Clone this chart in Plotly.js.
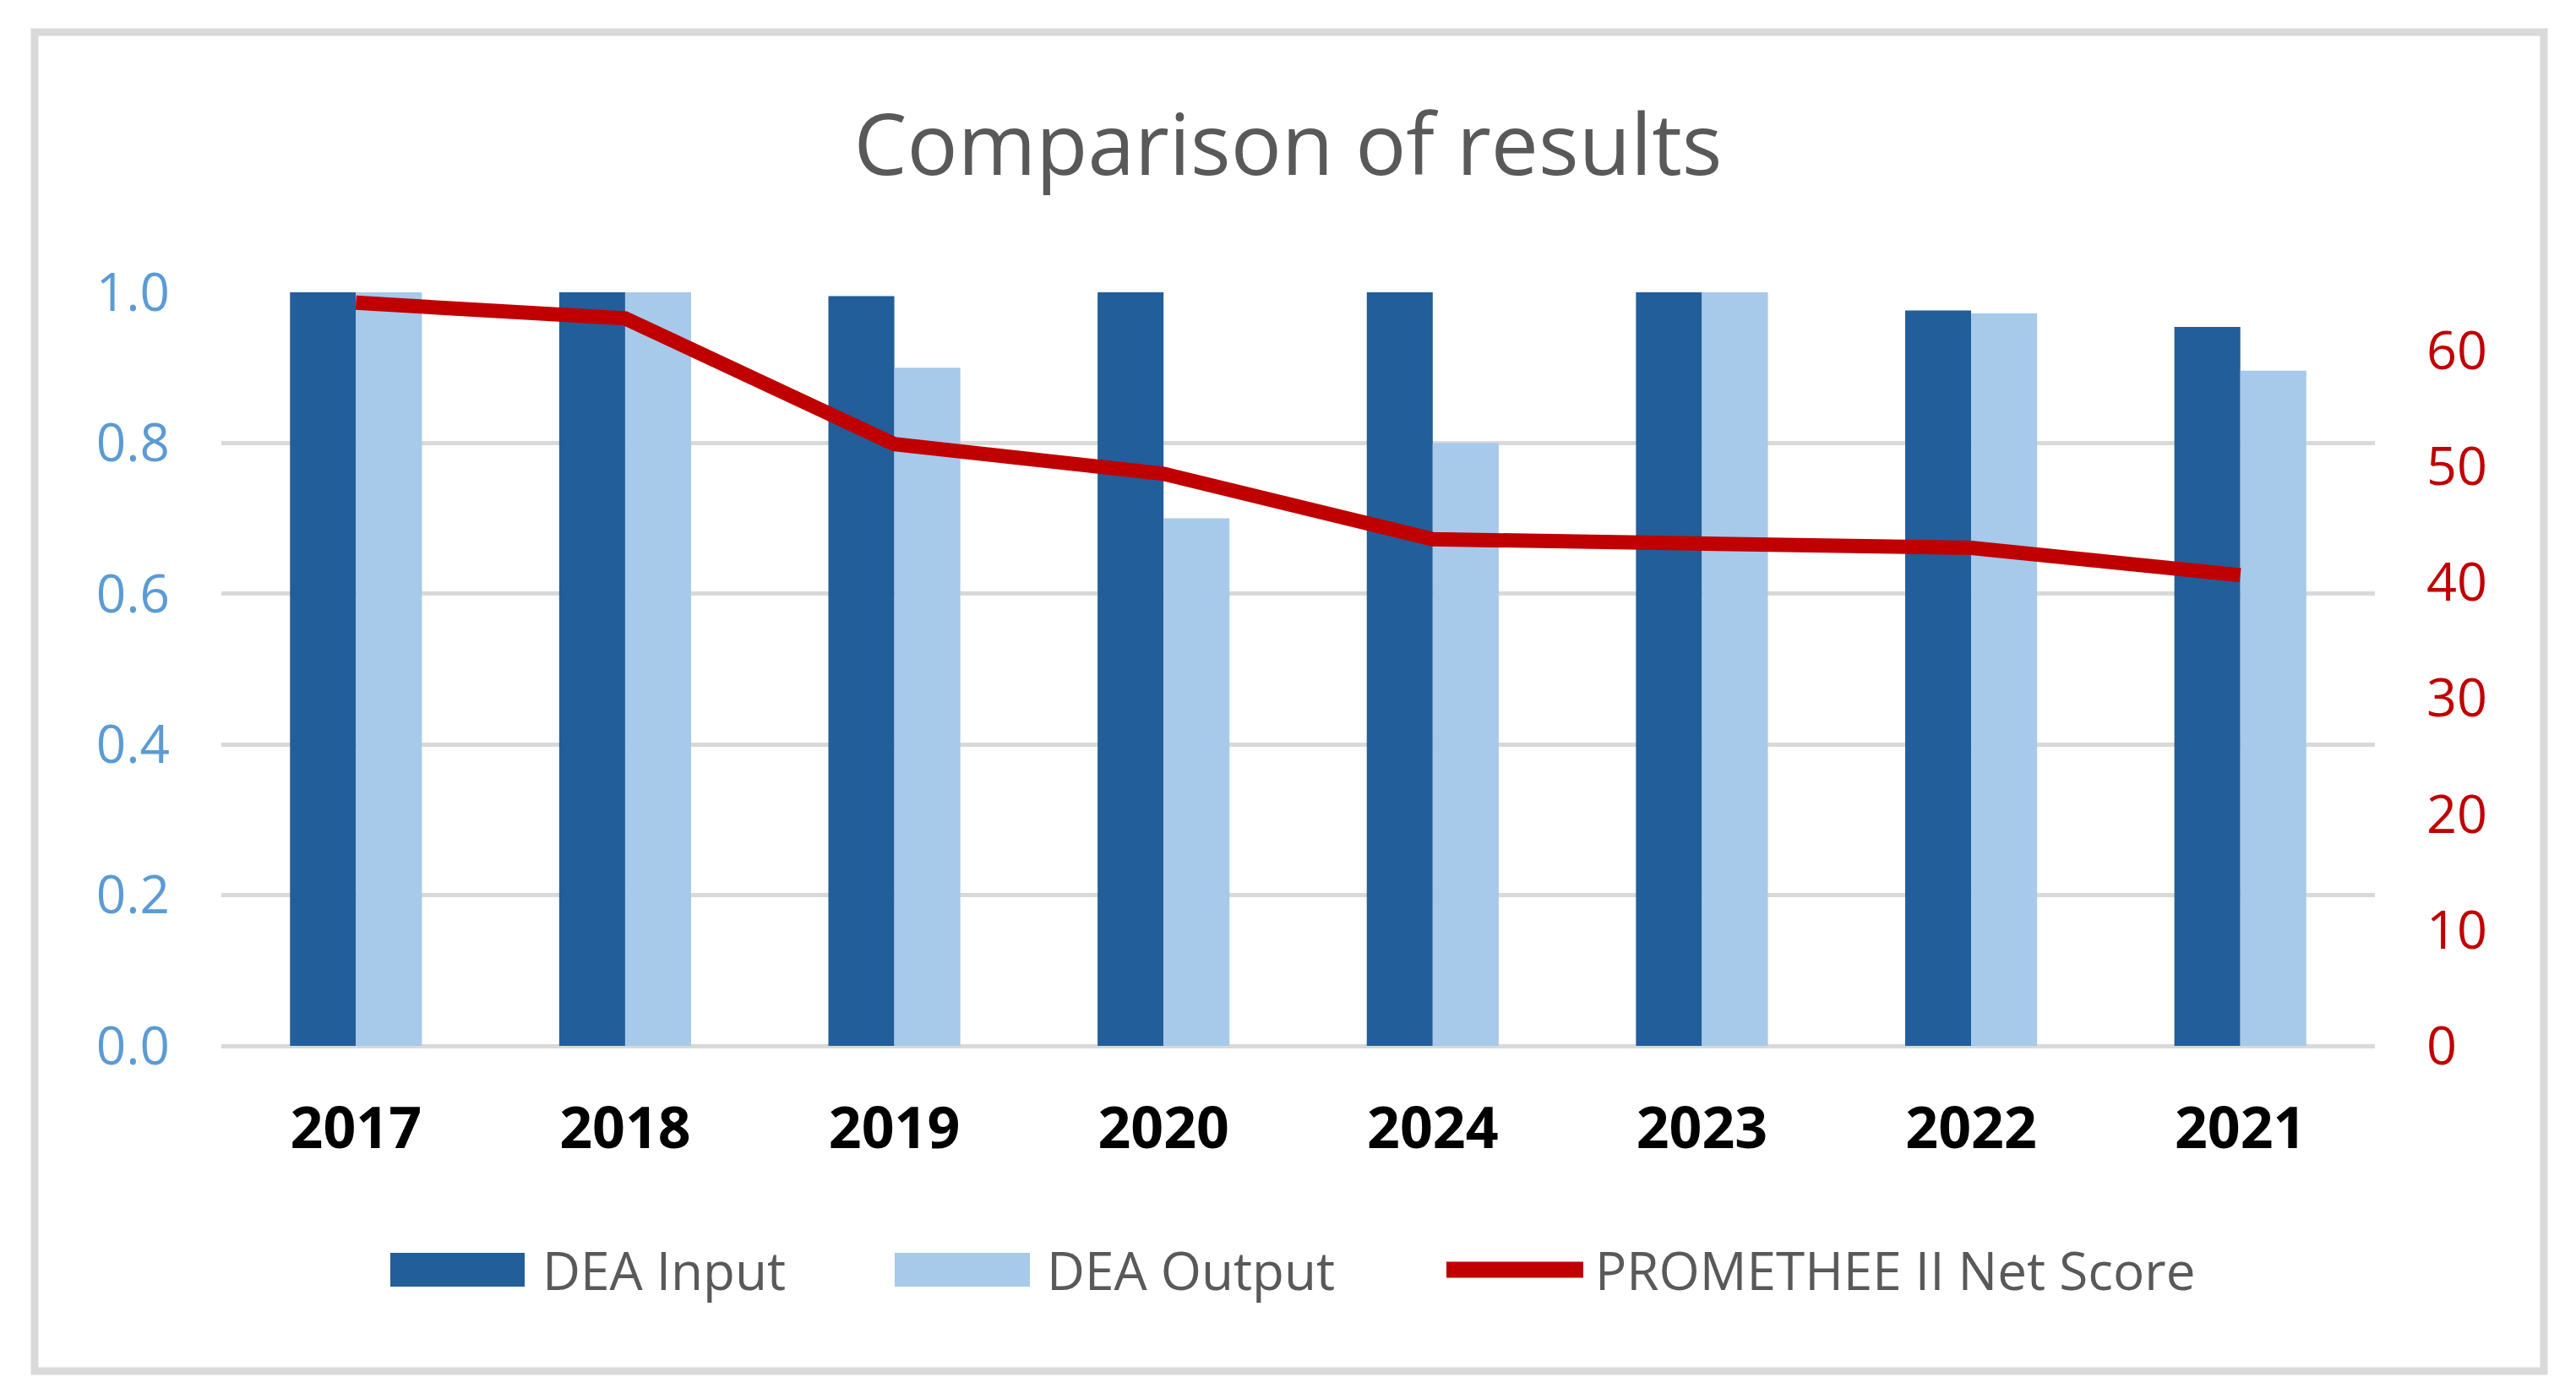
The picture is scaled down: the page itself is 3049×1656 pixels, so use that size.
<!DOCTYPE html>
<html>
<head>
<meta charset="utf-8">
<script src="https://cdn.plot.ly/plotly-3.0.1.min.js"></script>
<style>
  html, body { margin: 0; padding: 0; background: #ffffff; }
  #chart { width: 3049px; height: 1656px; }
</style>
</head>
<body>
<div id="chart"></div>
<script>
// Comparison of results — DEA bars (left axis) vs PROMETHEE II net score (right axis)

const years = ['2017', '2018', '2019', '2020', '2024', '2023', '2022', '2021'];
const deaInput = [1.0, 1.0, 0.995, 1.0, 1.0, 1.0, 0.976, 0.954];
const deaOutput = [1.0, 1.0, 0.90, 0.70, 0.80, 1.0, 0.972, 0.896];
const netScore = [64.1, 62.75, 51.9, 49.35, 43.7, 43.2, 42.96, 40.6];

const leftTicks = [0, 0.2, 0.4, 0.6, 0.8, 1.0];
const rightTicks = [0, 10, 20, 30, 40, 50, 60];
const seriesNames = ['DEA Input', 'DEA Output', 'PROMETHEE II Net Score'];

const W = 3049, H = 1656;
const M = { l: 262, r: 238, t: 346, b: 418 };
const PW = W - M.l - M.r;
const PH = H - M.t - M.b;

const DARK = '#225E99';
const LIGHT = '#A7C9EA';
const RED = '#C00000';
const GRID = '#D9D9D9';
const TEXT = '#595959';
const FONT = '"Open Sans", "Liberation Sans", sans-serif';

// pixel -> paper helpers (for the frame and the hand-placed legend)
const px = x => (x - M.l) / PW;
const py = y => (H - M.b - y) / PH;

const traces = [
  {
    type: 'bar', name: seriesNames[0], x: years, y: deaInput,
    marker: { color: DARK }, showlegend: false, hoverinfo: 'x+y'
  },
  {
    type: 'bar', name: seriesNames[1], x: years, y: deaOutput,
    marker: { color: LIGHT }, showlegend: false, hoverinfo: 'x+y'
  },
  {
    type: 'scatter', mode: 'lines', name: seriesNames[2], x: years, y: netScore,
    yaxis: 'y2', line: { color: RED, width: 17 }, showlegend: false
  }
];

// legend drawn by hand so the swatches get Excel's big blocks
const legendItems = [
  { kind: 'rect', color: DARK, x0: 462, x1: 621, tx: 640 },
  { kind: 'rect', color: LIGHT, x0: 1059, x1: 1219, tx: 1237 },
  { kind: 'line', color: RED, x0: 1712, x1: 1874, tx: 1886 }
];
const legendY = 1503;

const shapes = [
  {
    type: 'rect', xref: 'paper', yref: 'paper', layer: 'below',
    x0: px(41), x1: px(3011), y0: py(38), y1: py(1623),
    line: { color: GRID, width: 9 }, fillcolor: 'rgba(0,0,0,0)'
  }
];
const annotations = [];
legendItems.forEach((it, i) => {
  if (it.kind === 'rect') {
    shapes.push({
      type: 'rect', xref: 'paper', yref: 'paper',
      x0: px(it.x0), x1: px(it.x1), y0: py(legendY + 20), y1: py(legendY - 20),
      line: { width: 0 }, fillcolor: it.color
    });
  } else {
    shapes.push({
      type: 'line', xref: 'paper', yref: 'paper',
      x0: px(it.x0), x1: px(it.x1), y0: py(legendY), y1: py(legendY),
      line: { color: it.color, width: 19 }
    });
  }
  annotations.push({
    xref: 'paper', yref: 'paper', x: px(it.tx), y: py(legendY),
    xanchor: 'left', yanchor: 'middle', showarrow: false,
    text: seriesNames[i], font: { family: FONT, size: 62, color: TEXT }
  });
});

const layout = {
  width: W, height: H,
  margin: M,
  paper_bgcolor: '#ffffff', plot_bgcolor: '#ffffff',
  font: { family: FONT, color: TEXT },
  title: {
    text: 'Comparison of results',
    font: { family: FONT, size: 100, color: TEXT },
    x: 0.5, xref: 'container', xanchor: 'center',
    y: 1 - 172 / H, yref: 'container', yanchor: 'middle'
  },
  barmode: 'group',
  bargap: 0.51,
  bargroupgap: 0,
  showlegend: false,
  xaxis: {
    type: 'category', showgrid: false, zeroline: false, showline: false,
    ticks: '', ticklabelstandoff: 52,
    tickfont: { family: FONT, size: 68, color: '#000000', weight: 'bold' }
  },
  yaxis: {
    range: [0, 1], tickvals: leftTicks, tickformat: '.1f',
    showgrid: true, gridcolor: GRID, gridwidth: 5,
    zeroline: true, zerolinecolor: GRID, zerolinewidth: 5,
    showline: false, ticks: '', ticklabelstandoff: 60,
    tickfont: { family: FONT, size: 62, color: '#5B9BD5' }
  },
  yaxis2: {
    overlaying: 'y', side: 'right', range: [0, 65], tickvals: rightTicks,
    showgrid: false, zeroline: false, showline: false,
    ticks: '', ticklabelstandoff: 60,
    tickfont: { family: FONT, size: 63, color: RED }
  },
  shapes: shapes,
  annotations: annotations
};

Plotly.newPlot('chart', traces, layout, { displayModeBar: false, staticPlot: true });
</script>
</body>
</html>
